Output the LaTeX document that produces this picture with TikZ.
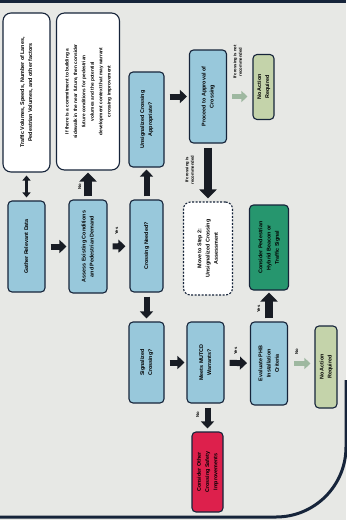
\documentclass[tikz,border=0pt]{standalone}
\usepackage{fontspec}
\setmainfont{Liberation Sans}
\usepackage{graphicx}
\usetikzlibrary{arrows.meta}
\definecolor{paper}{RGB}{231,232,229}
\definecolor{navy}{RGB}{22,36,58}
\definecolor{boxblue}{RGB}{152,200,219}
\definecolor{sage}{RGB}{196,211,170}
\definecolor{deepgreen}{RGB}{38,150,110}
\definecolor{alarm}{RGB}{221,32,76}
\definecolor{arrowc}{RGB}{24,28,36}
\definecolor{paleg}{RGB}{158,184,160}
\newcommand{\vtext}[1]{\rotatebox{90}{\begin{tabular}{@{}c@{}}#1\end{tabular}}}

\begin{document}
\begin{tikzpicture}[x=1pt,y=-1pt,
    every node/.style={font=\fontsize{5.4}{8.2}\selectfont\bfseries,inner sep=0pt},
    flow/.style={draw=navy,line width=1.1pt,rounded corners=4pt},
    bluebox/.style={flow,fill=boxblue},
    notebox/.style={flow,fill=white,rounded corners=8pt},
    dashbox/.style={flow,fill=white,dash pattern=on 2pt off 1.5pt,rounded corners=7pt},
    sagebox/.style={flow,fill=sage},
    greenbox/.style={flow,fill=deepgreen},
    redbox/.style={flow,fill=alarm},
    blk/.style={draw=arrowc,line width=6pt,-{Triangle[width=13pt,length=7pt]}},
    bigblk/.style={draw=arrowc,line width=8pt,-{Triangle[width=17pt,length=9pt]}},
    lite/.style={draw=paleg,line width=5pt,-{Triangle[width=11pt,length=6pt]}},
    dbl/.style={draw=arrowc,line width=2.5pt,
                {Triangle[width=8pt,length=5pt]}-{Triangle[width=8pt,length=5pt]}},
    lbl/.style={font=\fontsize{4.2}{5.6}\selectfont\bfseries}]
    \useasboundingbox (0,0) rectangle (346,520);
    \fill[paper] (0,0) rectangle (346,520);
    \fill[navy] (0,0) rectangle (346,3);
    \draw[navy,line width=3pt] (-5,517) -- (276,517)
          arc[start angle=90,end angle=0,radius=70] -- (346,380);

    \node[notebox,minimum width=47,minimum height=159] (traffic) at (26.5,92.5)
        {\vtext{Traffic Volumes, Speeds, Number of Lanes,\\Pedestrian Volumes, and other factors}};
    \node[notebox,minimum width=63,minimum height=157,font=\fontsize{4.8}{8.4}\selectfont\bfseries] (future) at (88,91.5)
        {\vtext{If there is a commitment to building a\\sidewalk in the near future, then consider\\future conditions for pedestrian\\volumes and the potential\\development context that may warrant\\crossing improvement}};

    \node[bluebox,minimum width=37,minimum height=91] (gather) at (26.5,246.5) {\vtext{Gather Relevant Data}};
    \node[bluebox,minimum width=38,minimum height=93] (assess) at (88,246.5) {\vtext{Assess Existing Conditions\\and Pedestrian Demand}};
    \node[bluebox,minimum width=33,minimum height=92] (crossing) at (146.5,246) {\vtext{Crossing Needed?}};
    \node[bluebox,minimum width=35,minimum height=95] (unsig) at (146.5,119.5) {\vtext{Unsignalized Crossing\\Appropriate?}};
    \node[bluebox,minimum width=37,minimum height=93] (approval) at (208,96.5) {\vtext{Proceed to Approval of\\Crossing}};
    \node[sagebox,minimum width=21,minimum height=65] (noact1) at (263.5,87) {\vtext{No Action\\Required}};
    \node[dashbox,minimum width=49,minimum height=93] (step2) at (208,248.5) {\vtext{Move to Step 2:\\Unsignalized Crossing\\Assessment}};
    \node[greenbox,minimum width=39,minimum height=85] (signal) at (269,247.5) {\vtext{Consider Pedestrian\\Hybrid Beacon or\\Traffic Signal}};
    \node[bluebox,minimum width=35,minimum height=81] (warrant) at (146.5,362.5) {\vtext{Signalized\\Crossing?}};
    \node[bluebox,minimum width=37,minimum height=81] (mutcd) at (205.5,362.5) {\vtext{Meets MUTCD\\Warrants?}};
    \node[redbox,minimum width=31,minimum height=80] (nosignal) at (207.5,472) {\vtext{Consider Other\\Crossing Safety\\Improvements}};
    \node[bluebox,minimum width=37,minimum height=83] (hybrid) at (269,363.5) {\vtext{Evaluate PHB\\Installation\\Criteria}};
    \node[sagebox,minimum width=22,minimum height=82] (noact2) at (326,367) {\vtext{No Action\\Required}};

    \draw[dbl,shorten <=3pt,shorten >=3pt] (traffic) -- (gather);
    \draw[blk,shorten <=5pt,shorten >=2pt] (gather) -- (assess);
    \draw[blk,shorten <=5pt,shorten >=4pt] (assess) -- (crossing);
    \draw[bigblk,shorten <=3pt,shorten >=2pt] (assess) -- (future);
    \draw[blk,shorten <=3pt,shorten >=2pt] (crossing) -- (unsig);
    \draw[blk,shorten <=5pt,shorten >=2pt] (unsig.east |- approval) -- (approval.west);
    \draw[lite,shorten <=5pt,shorten >=5pt] (approval) -- (approval -| noact1.west);
    \draw[bigblk,shorten <=4pt,shorten >=3pt] (approval) -- (step2);
    \draw[blk,shorten <=4pt,shorten >=3pt] (crossing) -- (warrant);
    \draw[blk,shorten <=5pt,shorten >=2pt] (warrant) -- (mutcd);
    \draw[blk,shorten <=5pt,shorten >=3pt] (mutcd) -- (hybrid);
    \draw[blk,shorten <=4pt,shorten >=3pt] (mutcd.south -| nosignal) -- (nosignal.north);
    \draw[bigblk,shorten <=3pt,shorten >=2pt] (hybrid) -- (signal);
    \draw[lite,shorten <=6pt,shorten >=4pt] (hybrid) -- (hybrid -| noact2.west);

    \node[lbl] (lno1) at (80,187) {\vtext{No}};
    \node[lbl] (lyes1) at (117,231) {\vtext{Yes}};
    \node[lbl] (lrec) at (190,170) {\vtext{If crossing is\\recommended}};
    \node[lbl] (lnrec) at (238,62) {\vtext{If crossing is not\\recommended}};
    \node[lbl] (lno2) at (198,415) {\vtext{No}};
    \node[lbl] (lyes2) at (236,351) {\vtext{Yes}};
    \node[lbl] (lyes3) at (259,309) {\vtext{Yes}};
    \node[lbl] (lno3) at (297,352) {\vtext{No}};
\end{tikzpicture}
\end{document}
